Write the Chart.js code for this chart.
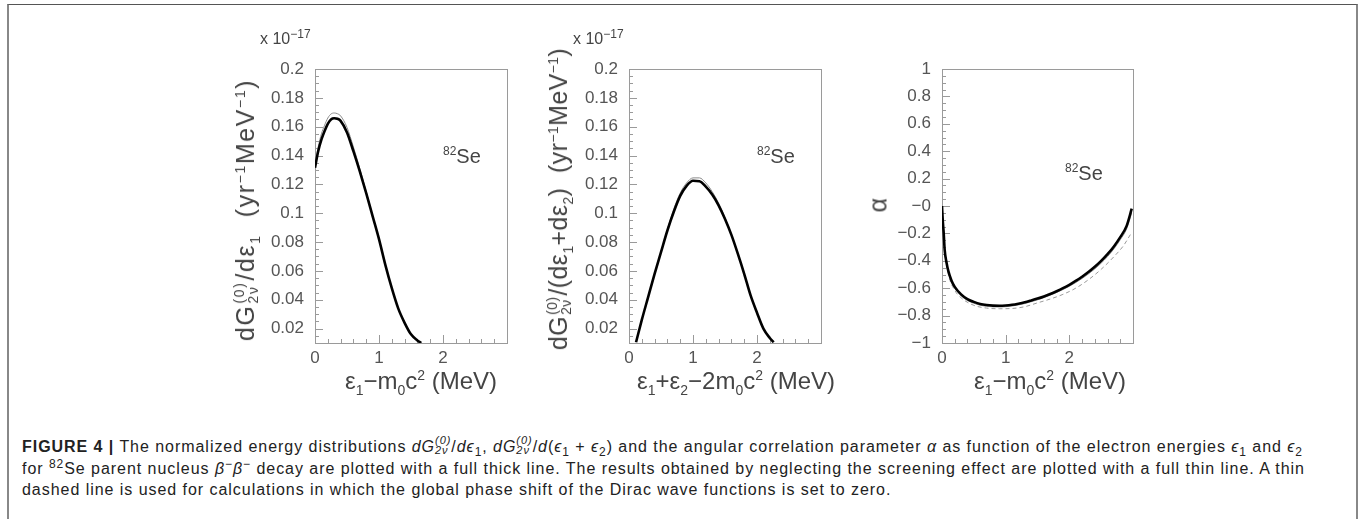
<!DOCTYPE html>
<html>
<head>
<meta charset="utf-8">
<script src="https://cdn.jsdelivr.net/npm/chart.js@4.4.0/dist/chart.umd.min.js"></script>
<style>
  body { margin: 0; background: #fff; width: 1362px; height: 521px; overflow: hidden; position: relative; font-family: "Liberation Sans", Arial, sans-serif; }
  .frame { position: absolute; left: 7px; top: 4px; width: 1347px; height: 514px; border-top: 1px solid #555; border-left: 2px solid #888; border-right: 2px solid #888; }
  canvas { position: absolute; }
  .lbl { position: absolute; color: #444; white-space: nowrap; line-height: 1; }
  .ytitle { transform: translate(-50%, -50%) rotate(-90deg); font-size: 25px; letter-spacing: 0.4px; }
  .wide { letter-spacing: 1.6px; }
  .xtitle { transform: translate(-50%, -50%); font-size: 24px; }
  .lbl sub, .lbl sup { font-size: 14px; line-height: 0; }
  .st { display: inline-flex; flex-direction: column; font-size: 14px; line-height: 14px; vertical-align: 10px; margin: 0 1px; }
  .expo { font-size: 16px; }
  .expo sup { font-size: 12px; }
  .se { font-size: 20px; }
  .se sup { font-size: 12px; }
  .caption { position: absolute; left: 22px; top: 435px; font-size: 16px; line-height: 21.5px; color: #222; white-space: nowrap; }
  .caption span.ln { display: block; }
  .caption sub, .caption sup { font-size: 12px; line-height: 0; }
  .cst { display: inline-flex; flex-direction: column; font-size: 11px; line-height: 10px; vertical-align: 8px; font-style: italic; }
</style>
</head>
<body>
<div class="frame"></div>

<canvas id="c1" width="270" height="340" style="left:250px;top:40px"></canvas>
<canvas id="c2" width="270" height="340" style="left:564px;top:40px"></canvas>
<canvas id="c3" width="270" height="340" style="left:877px;top:40px"></canvas>

<!-- multipliers -->
<div class="lbl expo" style="left:260px;top:31px">x 10<sup>−17</sup></div>
<div class="lbl expo" style="left:573px;top:31px">x 10<sup>−17</sup></div>

<!-- y titles -->
<div class="lbl ytitle wide" style="left:246px;top:210px">dG<span class="st"><span>(0)</span><span>2ν</span></span>/dε<sub>1</sub>&nbsp;&nbsp;(yr<sup>−1</sup>MeV<sup>−1</sup>)</div>
<div class="lbl ytitle" style="left:559px;top:199px">dG<span class="st"><span>(0)</span><span>2ν</span></span>/(dε<sub>1</sub>+dε<sub>2</sub>)&nbsp;&nbsp;(yr<sup>−1</sup>MeV<sup>−1</sup>)</div>
<div class="lbl ytitle" style="left:878px;top:205px">α</div>

<!-- x titles -->
<div class="lbl xtitle" style="left:421px;top:381px">ε<sub>1</sub>−m<sub>0</sub>c<sup>2</sup>&nbsp;(MeV)</div>
<div class="lbl xtitle" style="left:736px;top:381px">ε<sub>1</sub>+ε<sub>2</sub>−2m<sub>0</sub>c<sup>2</sup>&nbsp;(MeV)</div>
<div class="lbl xtitle" style="left:1050px;top:381px">ε<sub>1</sub>−m<sub>0</sub>c<sup>2</sup>&nbsp;(MeV)</div>

<!-- nucleus labels -->
<div class="lbl se" style="left:443px;top:146px"><sup>82</sup>Se</div>
<div class="lbl se" style="left:757px;top:146px"><sup>82</sup>Se</div>
<div class="lbl se" style="left:1065px;top:163px"><sup>82</sup>Se</div>

<div class="caption" id="cap">
<span class="ln"><b>FIGURE 4 |</b> The normalized energy distributions <i>dG</i><span class="cst"><span>(0)</span><span>2ν</span></span>/<i>dϵ</i><sub>1</sub>, <i>dG</i><span class="cst"><span>(0)</span><span>2ν</span></span>/<i>d</i>(<i>ϵ</i><sub>1</sub> + <i>ϵ</i><sub>2</sub>) and the angular correlation parameter <i>α</i> as function of the electron energies <i>ϵ</i><sub>1</sub> and <i>ϵ</i><sub>2</sub></span>
<span class="ln" id="capLine2">for <sup>82</sup>Se parent nucleus <i>β</i><sup>−</sup><i>β</i><sup>−</sup> decay are plotted with a full thick line. The results obtained by neglecting the screening effect are plotted with a full thin line. A thin</span>
<span class="ln">dashed line is used for calculations in which the global phase shift of the Dirac wave functions is set to zero.</span>
</div>

<script>
// panel 1: single electron spectrum (units of 1e-17)
const p1X     = [0, 0.05, 0.1, 0.15, 0.2, 0.25, 0.3, 0.35, 0.4, 0.5, 0.6, 0.7, 0.8, 0.9, 1.0, 1.1, 1.2, 1.3, 1.4, 1.5, 1.6, 1.66];
const p1Thick = [0.1315, 0.143, 0.151, 0.157, 0.162, 0.165, 0.1658, 0.1655, 0.164, 0.156, 0.143, 0.129, 0.114, 0.098, 0.082, 0.064, 0.048, 0.034, 0.024, 0.016, 0.0118, 0.0100];
const p1ThinX = [0, 0.05, 0.1, 0.15, 0.2, 0.25, 0.3, 0.35, 0.4, 0.5, 0.6, 0.7, 0.8, 0.9];
const p1Thin  = [0.134, 0.146, 0.155, 0.161, 0.166, 0.1688, 0.1695, 0.169, 0.1675, 0.1595, 0.146, 0.131, 0.115, 0.098];

// panel 2: summed energy spectrum (units of 1e-17)
const p2X     = [0.11, 0.2, 0.3, 0.4, 0.5, 0.6, 0.7, 0.8, 0.9, 1.0, 1.1, 1.2, 1.3, 1.4, 1.5, 1.6, 1.7, 1.8, 1.9, 2.0, 2.1, 2.2, 2.26];
const p2Thick = [0.0105, 0.026, 0.042, 0.058, 0.073, 0.088, 0.101, 0.112, 0.119, 0.1225, 0.1222, 0.1185, 0.113, 0.1055, 0.096, 0.085, 0.072, 0.058, 0.043, 0.031, 0.020, 0.0135, 0.0105];
const p2ThinX = [0.6, 0.7, 0.8, 0.9, 1.0, 1.1, 1.2, 1.3, 1.4, 1.5, 1.6];
const p2Thin  = [0.089, 0.103, 0.114, 0.121, 0.1245, 0.1245, 0.121, 0.115, 0.107, 0.097, 0.085];

// panel 3: angular correlation alpha
const p3X      = [0, 0.01, 0.027, 0.042, 0.07, 0.1, 0.15, 0.2, 0.3, 0.4, 0.5, 0.6, 0.7, 0.8, 0.9, 1.0, 1.1, 1.2, 1.3, 1.4, 1.5, 1.6, 1.7, 1.8, 1.9, 2.0, 2.1, 2.2, 2.3, 2.4, 2.5, 2.6, 2.7, 2.8, 2.9, 2.98];
const p3Thick  = [0.0, -0.09, -0.20, -0.32, -0.41, -0.475, -0.545, -0.59, -0.645, -0.68, -0.70, -0.715, -0.723, -0.727, -0.728, -0.726, -0.721, -0.713, -0.703, -0.690, -0.676, -0.660, -0.642, -0.622, -0.600, -0.575, -0.547, -0.516, -0.482, -0.444, -0.401, -0.352, -0.295, -0.227, -0.145, -0.02];
const p3Thin   = [-0.01, -0.10, -0.21, -0.33, -0.42, -0.485, -0.555, -0.60, -0.655, -0.69, -0.71, -0.724, -0.732, -0.736, -0.737, -0.735, -0.730, -0.722, -0.712, -0.699, -0.685, -0.669, -0.651, -0.631, -0.610, -0.586, -0.559, -0.529, -0.496, -0.459, -0.417, -0.369, -0.313, -0.246, -0.167, -0.05];
const p3DashX  = [0, 0.03, 0.05, 0.1, 0.2, 0.3, 0.5, 0.7, 0.9, 1.1, 1.3, 1.5, 1.7, 1.9, 2.1, 2.3, 2.5, 2.7, 2.85, 2.97];
const p3Dash   = [-0.02, -0.24, -0.35, -0.50, -0.615, -0.67, -0.725, -0.745, -0.750, -0.748, -0.735, -0.707, -0.679, -0.645, -0.600, -0.538, -0.462, -0.37, -0.29, -0.20];

// tick labels
const xTickValues = [0, 1, 2];
const specTicks   = [0.02, 0.04, 0.06, 0.08, 0.1, 0.12, 0.14, 0.16, 0.18, 0.2];
const alphaTicks  = [-1, -0.8, -0.6, -0.4, -0.2, 0, 0.2, 0.4, 0.6, 0.8, 1];

const pts = (xs, ys) => xs.map((x, i) => ({ x: x, y: ys[i] }));

// ROOT style frame with inward ticks
const frameTicks = {
  id: 'frameTicks',
  beforeDatasetsDraw(chart, args, o) {
    const { ctx, chartArea: a, scales: { x, y } } = chart;
    ctx.save();
    ctx.strokeStyle = '#9a9a9a';
    ctx.lineWidth = 1;
    ctx.strokeRect(Math.round(a.left) + 0.5, Math.round(a.top) + 0.5, Math.round(a.right - a.left), Math.round(a.bottom - a.top));
    ctx.beginPath();
    const nY = Math.round((o.yMax - o.yStart) / o.yMinor);
    for (let i = 0; i <= nY; i++) {
      const v = o.yStart + i * o.yMinor;
      const p = Math.round(y.getPixelForValue(v)) + 0.5;
      const major = Math.abs(v / o.yMajor - Math.round(v / o.yMajor)) < 1e-6;
      ctx.moveTo(a.left, p);
      ctx.lineTo(a.left + (major ? 8 : 4), p);
    }
    for (let i = 0; i <= 15; i++) {
      const v = i * 0.2;
      const p = Math.round(x.getPixelForValue(v)) + 0.5;
      const major = i % 5 === 0;
      ctx.moveTo(p, a.bottom);
      ctx.lineTo(p, a.bottom - (major ? 8 : 4));
    }
    ctx.stroke();
    ctx.restore();
  }
};

const tickFont = { family: '"Liberation Sans", Arial, sans-serif', size: 17 };

function makePanel(id, datasets, yMin, yMax, yTicks, yFmt, yMinor, yMajor, yStart, padRight) {
  return new Chart(document.getElementById(id), {
    type: 'line',
    data: { datasets: datasets },
    plugins: [frameTicks],
    options: {
      responsive: false,
      animation: false,
      layout: { padding: { top: 29, right: padRight, left: 0, bottom: 0 } },
      plugins: {
        legend: { display: false },
        tooltip: { enabled: false },
        frameTicks: { yMin: yMin, yMax: yMax, yMinor: yMinor, yMajor: yMajor, yStart: yStart }
      },
      elements: { point: { radius: 0 }, line: { cubicInterpolationMode: 'monotone' } },
      scales: {
        x: {
          type: 'linear', min: 0, max: 3,
          grid: { display: false, drawTicks: false }, border: { display: false },
          afterBuildTicks: s => { s.ticks = xTickValues.map(v => ({ value: v })); },
          afterFit: s => { s.height = 37; },
          ticks: { font: tickFont, color: '#555', padding: 5, maxRotation: 0 }
        },
        y: {
          type: 'linear', min: yMin, max: yMax,
          grid: { display: false, drawTicks: false }, border: { display: false },
          afterBuildTicks: s => { s.ticks = yTicks.map(v => ({ value: v })); },
          afterFit: s => { s.width = 65; },
          ticks: { font: tickFont, color: '#555', padding: 11, callback: yFmt }
        }
      }
    }
  });
}

const thick = (d) => ({ data: d, borderColor: '#000', borderWidth: 2.6, fill: false });
const thin = (d) => ({ data: d, borderColor: '#8c8c8c', borderWidth: 1, fill: false });
const dashed = (d) => ({ data: d, borderColor: '#9a9a9a', borderWidth: 1, borderDash: [4, 3], fill: false });

const specFmt = v => String(Math.round(v * 100) / 100);
const alphaFmt = v => {
  const r = Math.round(v * 10) / 10;
  if (r === 0) return '−0';
  return (r < 0 ? '−' : '') + String(Math.abs(r));
};

makePanel('c1', [thick(pts(p1X, p1Thick)), thin(pts(p1ThinX, p1Thin))],
  0.01, 0.2, specTicks, specFmt, 0.005, 0.02, 0.01, 13);
makePanel('c2', [thick(pts(p2X, p2Thick)), thin(pts(p2ThinX, p2Thin))],
  0.01, 0.2, specTicks, specFmt, 0.005, 0.02, 0.01, 13);
makePanel('c3', [thick(pts(p3X, p3Thick)), thin(pts(p3X, p3Thin)), dashed(pts(p3DashX, p3Dash))],
  -1, 1, alphaTicks, alphaFmt, 0.05, 0.2, -1, 14);

// stretch caption letter spacing so the second line spans the same width as in the figure
const cap = document.getElementById('cap');
const line2 = document.getElementById('capLine2');
const r = document.createRange();
r.selectNodeContents(line2);
const w = r.getBoundingClientRect().width;
const n = line2.textContent.length;
cap.style.letterSpacing = ((1283 - w) / n).toFixed(3) + 'px';
</script>
</body>
</html>
